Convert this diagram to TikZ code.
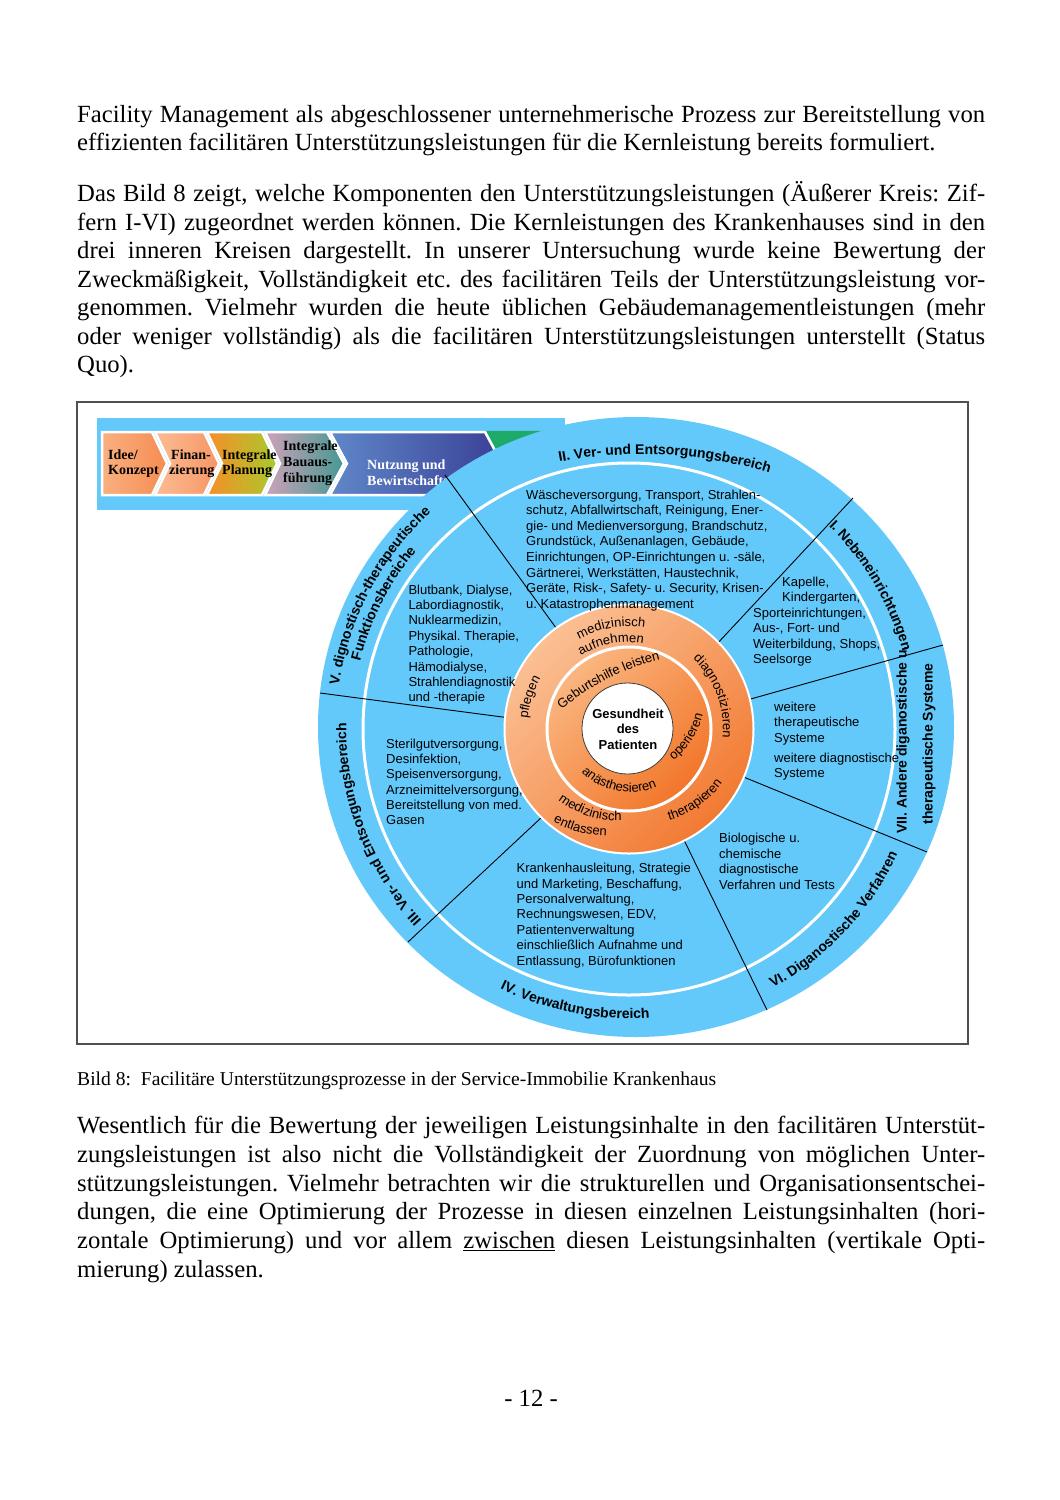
\documentclass[tikz,border=0pt]{standalone}
\usepackage{fontspec}
\setmainfont{Liberation Serif}
\newfontfamily\arial{Liberation Sans}
\usetikzlibrary{decorations.text,calc}
\frenchspacing
\definecolor{cblue}{RGB}{99,201,250}
\definecolor{frameg}{RGB}{80,80,80}
\definecolor{orL}{RGB}{251,192,148}
\definecolor{orD}{RGB}{242,122,50}
\definecolor{orLL}{RGB}{250,182,128}
\definecolor{orDD}{RGB}{242,118,42}
\definecolor{ca1}{RGB}{250,176,128}
\definecolor{ca2}{RGB}{245,140,82}
\definecolor{cb1}{RGB}{251,188,148}
\definecolor{cb2}{RGB}{246,150,100}
\definecolor{cc1}{RGB}{246,142,40}
\definecolor{cc2}{RGB}{168,202,45}
\definecolor{cd1}{RGB}{205,162,185}
\definecolor{cd2}{RGB}{70,152,145}
\definecolor{ce1}{RGB}{95,135,200}
\definecolor{ce2}{RGB}{58,64,150}
\definecolor{cf1}{RGB}{30,170,105}
\newcommand\bodyf{\fontsize{24.7}{28.5}\selectfont}
\newcommand\jl[1]{\makebox[908pt][s]{#1}}
\newcommand\rfont{\arial\bfseries\fontsize{14}{16}\selectfont}
\newcommand\ofont{\arial\fontsize{13}{15}\selectfont}
\newcommand\cblk[2]{\parbox[t]{320pt}{\arial\fontsize{13}{#1}\selectfont\raggedright #2}}
\newcommand\chblk[2]{\parbox[t]{200pt}{\bfseries\fontsize{14}{#1}\selectfont\raggedright #2}}
% curved text: Mx, My (screen, baseline middle), R, theta (outward normal), dir (1 cw / -1 ccw), text
\newcommand\rtext[6]{%
  \pgfmathsetmacro\rtcx{#1-#3*cos(#4)}%
  \pgfmathsetmacro\rtcy{-#2-#3*sin(#4)}%
  \pgfmathsetmacro\rtsa{#4+(#5)*70}%
  \pgfmathsetmacro\rtea{#4-(#5)*70}%
  \path[decorate,decoration={text along path,text align=center,text={#6}}]
    (\rtcx,\rtcy) ++(\rtsa:#3) arc[start angle=\rtsa,end angle=\rtea,radius=#3];%
}
\tikzset{
  body/.style={anchor=base west,inner sep=0,font=\bodyf},
  cb/.style={anchor=base west,inner sep=0},
  chev/.style={draw=white,line width=2.5},
  divl/.style={draw=black,line width=0.9},
}
\begin{document}
\begin{tikzpicture}[x=1pt,y=1pt]
\useasboundingbox (0,0) rectangle (1060,-1500);
\fill[white] (0,0) rectangle (1060,-1500);

% ---------- body text ----------
\node[body] (p1a) at (77,-122) {\jl{Facility Management als abgeschlossener unternehmerische Prozess zur Bereitstellung von}};
\node[body] (p1b) at (77,-150.5) {effizienten facilitären Unterstützungsleistungen für die Kernleistung bereits formuliert.};

\node[body] (p2a) at (77,-201.5) {\jl{Das Bild 8 zeigt, welche Komponenten den Unterstützungsleistungen (Äußerer Kreis: Zif-}};
\node[body] (p2b) at (77,-230) {\jl{fern I-VI) zugeordnet werden können. Die Kernleistungen des Krankenhauses sind in den}};
\node[body] (p2c) at (77,-258.5) {\jl{drei inneren Kreisen dargestellt. In unserer Untersuchung wurde keine Bewertung der}};
\node[body] (p2d) at (77,-287) {\jl{Zweckmäßigkeit, Vollständigkeit etc. des facilitären Teils der Unterstützungsleistung vor-}};
\node[body] (p2e) at (77,-315.5) {\jl{genommen. Vielmehr wurden die heute üblichen Gebäudemanagementleistungen (mehr}};
\node[body] (p2f) at (77,-344) {\jl{oder weniger vollständig) als die facilitären Unterstützungsleistungen unterstellt (Status}};
\node[body] (p2g) at (77,-372.5) {Quo).};

\node[anchor=base west,inner sep=0,font=\fontsize{19.6}{23}\selectfont] (cap) at (77,-1085.5) {Bild 8:\ \ Facilitäre Unterstützungsprozesse in der Service-Immobilie Krankenhaus};

\node[body] (p3a) at (77,-1133.5) {\jl{Wesentlich für die Bewertung der jeweiligen Leistungsinhalte in den facilitären Unterstüt-}};
\node[body] (p3b) at (77,-1162.3) {\jl{zungsleistungen ist also nicht die Vollständigkeit der Zuordnung von möglichen Unter-}};
\node[body] (p3c) at (77,-1191) {\jl{stützungsleistungen. Vielmehr betrachten wir die strukturellen und Organisationsentschei-}};
\node[body] (p3d) at (77,-1219.8) {\jl{dungen, die eine Optimierung der Prozesse in diesen einzelnen Leistungsinhalten (hori-}};
\node[body] (p3e) at (77,-1248.6) {\jl{zontale Optimierung) und vor allem \underline{zwischen} diesen Leistungsinhalten (vertikale Opti-}};
\node[body] (p3f) at (77,-1277.4) {mierung) zulassen.};

\node[anchor=base,inner sep=0,font=\bodyf] (pg) at (531,-1406) {- 12 -};

% ---------- frame ----------
\draw[frameg,line width=1.2] (77,-402) rectangle (968,-1044);

% ---------- process band ----------
\fill[cblue] (97,-418) rectangle (565,-510);
\fill[chev,cf1] (488,-432) -- (600,-432) -- (600,-495) -- (488,-495) -- (505,-463.5) -- cycle;
\shadedraw[chev,left color=ce1,right color=ce2] (330,-432) -- (485,-432) -- (502,-463.5) -- (485,-495) -- (330,-495) -- (347,-463.5) -- cycle;
\shadedraw[chev,left color=cd1,right color=cd2] (265,-432) -- (327,-432) -- (344,-463.5) -- (327,-495) -- (265,-495) -- (280,-463.5) -- cycle;
\shadedraw[chev,left color=cc1,right color=cc2] (207,-432) -- (262,-432) -- (277,-463.5) -- (262,-495) -- (207,-495) -- (222,-463.5) -- cycle;
\shadedraw[chev,left color=cb1,right color=cb2] (155,-432) -- (204,-432) -- (219,-463.5) -- (204,-495) -- (155,-495) -- (170,-463.5) -- cycle;
\shadedraw[chev,left color=ca1,right color=ca2] (102,-432) -- (152,-432) -- (167,-463.5) -- (152,-495) -- (102,-495) -- cycle;

\node[cb] (ch1) at (108,-459) {\chblk{15}{Idee/\\Konzept}};
\node[cb] (ch2) at (169,-459) {\chblk{15}{\hspace*{2pt}Finan-\\zierung}};
\node[cb] (ch3) at (222,-459) {\chblk{15}{Integrale\\Planung}};
\node[cb] (ch4) at (283,-450) {\chblk{16}{Integrale\\Bauaus-\\führung}};
\node[cb] (ch5) at (367,-460) {\chblk{16}{\color{white}Nutzung und\\Bewirtschaftung}};

% ---------- circle ----------
\coordinate (C) at (629,-729);
\fill[cblue] (636,-727) ellipse [x radius=318, y radius=310];
\draw[white,line width=3] (C) circle (266);

\coordinate (oa) at (445,-475);
\coordinate (ob) at (853,-498);
\coordinate (oc) at (943,-645);
\coordinate (od) at (927,-852);
\coordinate (oe) at (767,-1010);
\coordinate (of) at (408,-942);
\coordinate (og) at (320,-693);
\draw[divl] ($(C)+(125.8:110)$) -- (oa);
\draw[divl] ($(C)+(43.7:110)$) -- (ob);
\draw[divl] ($(C)+(13.6:110)$) -- (oc);
\draw[divl] ($(C)+(-22.8:110)$) -- (od);
\draw[divl] ($(C)+(-63.6:110)$) -- (oe);
\draw[divl] ($(C)+(-134.4:110)$) -- (of);
\draw[divl] ($(C)+(174.9:110)$) -- (og);

\shade[top color=orL,bottom color=orD,shading angle=45] (C) circle (124.5);
\draw[white,line width=2] (C) circle (124.5);
\shade[top color=orLL,bottom color=orDD,shading angle=45] (C) circle (82);
\draw[white,line width=3] (C) circle (82);
\filldraw[fill=white,draw={rgb,255:red,60;green,60;blue,60},line width=0.8] (627.5,-728.5) circle (45.5);

\node[anchor=base,inner sep=0] (gp) at (628,-718.3) {\parbox[t]{90pt}{\centering\arial\bfseries\fontsize{13}{15.5}\selectfont Gesundheit\\des\\Patienten}};

% ---------- segment contents ----------
\node[cb] (tII) at (526,-499) {\cblk{15.6}{Wäscheversorgung, Transport, Strahlen-\\schutz, Abfallwirtschaft, Reinigung, Ener-\\gie- und Medienversorgung, Brandschutz,\\Grundstück, Außenanlagen, Gebäude,\\Einrichtungen, OP-Einrichtungen u. -säle,\\Gärtnerei, Werkstätten, Haustechnik,\\Geräte, Risk-, Safety- u. Security, Krisen-\\u. Katastrophenmanagement}};
\node[cb] (tIa) at (782,-586) {\cblk{15.5}{Kapelle,\\Kindergarten,}};
\node[cb] (tIb) at (753,-617) {\cblk{15.5}{Sporteinrichtungen,\\Aus-, Fort- und\\Weiterbildung, Shops,\\Seelsorge}};
\node[cb] (tVIIa) at (774,-711.5) {\cblk{15.3}{weitere\\therapeutische\\Systeme}};
\node[cb] (tVIIb) at (774,-762.5) {\cblk{15.3}{weitere diagnostische\\Systeme}};
\node[cb] (tVI) at (719,-842.5) {\cblk{15.5}{Biologische u.\\chemische\\diagnostische\\Verfahren und Tests}};
\node[cb] (tIV) at (516.5,-872.7) {\cblk{15.4}{Krankenhausleitung, Strategie\\und Marketing, Beschaffung,\\Personalverwaltung,\\Rechnungswesen, EDV,\\Patientenverwaltung\\einschließlich Aufnahme und\\Entlassung, Bürofunktionen}};
\node[cb] (tIII) at (386,-748.3) {\cblk{15.3}{Sterilgutversorgung,\\Desinfektion,\\Speisenversorgung,\\Arzneimittelversorgung,\\Bereitstellung von med.\\Gasen}};
\node[cb] (tV) at (408.3,-594) {\cblk{15.4}{Blutbank, Dialyse,\\Labordiagnostik,\\Nuklearmedizin,\\Physikal. Therapie,\\Pathologie,\\Hämodialyse,\\Strahlendiagnostik\\und -therapie}};

% ---------- ring labels ----------
\rtext{665}{455}{450}{87}{1}{|\rfont|II. Ver- und Entsorgungsbereich}
\rtext{874}{584}{280}{30.5}{1}{|\rfont|I. Nebeneinrichtungen}
\rtext{846}{931}{290}{-43}{-1}{|\rfont|VI. Diganostische Verfahren}
\rtext{573}{1013}{300}{-101}{-1}{|\rfont|IV. Verwaltungsbereich}
\rtext{365}{829}{282}{201}{1}{|\rfont|III. Ver- und Entsorgungsbereich}
\rtext{370}{591}{292}{152}{1}{|\rfont|V. dignostisch-therapeutische}
\rtext{382}{603}{276}{153}{1}{|\rfont|Funktionsbereiche}
\node[rotate=90,inner sep=0,font=\rfont] (lVIIa) at (903,-740) {VII. Andere diganostische u.};
\node[rotate=90,inner sep=0,font=\rfont] (lVIIb) at (929,-744) {therapeutische Systeme};

% ---------- orange ring labels ----------
\rtext{611}{628}{103}{100}{1}{|\ofont|medizinisch}
\rtext{611}{644}{86}{101}{1}{|\ofont|aufnehmen}
\rtext{532}{698}{100}{162}{1}{|\ofont|pflegen}
\rtext{717}{695}{95}{20.5}{1}{|\ofont|diagnostizieren}
\rtext{699}{806}{100}{-55}{-1}{|\ofont|therapieren}
\rtext{588}{816}{96}{-108}{-1}{|\ofont|medizinisch}
\rtext{579}{832}{115}{-105}{-1}{|\ofont|entlassen}
\rtext{608}{679}{250}{117}{1}{|\ofont|Geburtshilfe leisten}
\rtext{692}{740}{85}{-33}{-1}{|\ofont|operieren}
\rtext{617}{791}{68}{-101}{-1}{|\ofont|anästhesieren}
\end{tikzpicture}
\end{document}
